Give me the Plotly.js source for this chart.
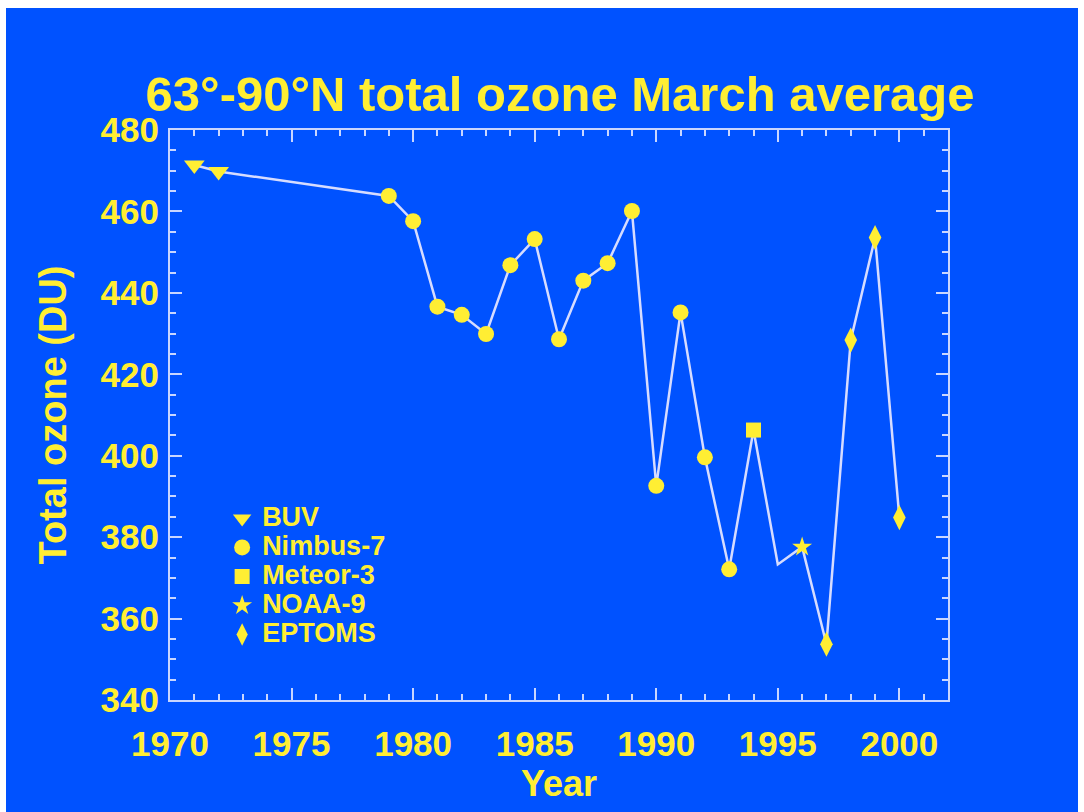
<!DOCTYPE html>
<html>
<head>
<meta charset="utf-8">
<script src="https://cdn.plot.ly/plotly-3.0.1.min.js"></script>
<style>
  html, body { margin: 0; padding: 0; background: #ffffff; width: 1084px; height: 812px; overflow: hidden; }
  #chart { position: absolute; left: 6px; top: 8px; width: 1072px; height: 804px; }
</style>
</head>
<body>
<div id="chart"></div>
<script>
// ---- data ----
const lineYears  = [1971, 1972, 1979, 1980, 1981, 1982, 1983, 1984, 1985, 1986, 1987, 1988, 1989, 1990, 1991, 1992, 1993, 1994, 1995, 1996, 1997, 1998, 1999, 2000];
const lineOzone  = [471.4, 469.8, 463.8, 457.6, 436.6, 434.6, 429.9, 446.8, 453.2, 428.6, 443.0, 447.3, 460.1, 392.6, 435.2, 399.6, 372.1, 406.3, 373.3, 377.6, 353.7, 428.4, 453.6, 384.8];

const buvYears = [1971, 1972];
const buvOzone = [471.4, 469.8];

const nimbusYears = [1979, 1980, 1981, 1982, 1983, 1984, 1985, 1986, 1987, 1988, 1989, 1990, 1991, 1992, 1993];
const nimbusOzone = [463.8, 457.6, 436.6, 434.6, 429.9, 446.8, 453.2, 428.6, 443.0, 447.3, 460.1, 392.6, 435.2, 399.6, 372.1];

const meteorYears = [1994];
const meteorOzone = [406.3];

const noaaYears = [1996];
const noaaOzone = [377.6];

const eptomsYears = [1997, 1998, 1999, 2000];
const eptomsOzone = [353.7, 428.4, 453.6, 384.8];

const seriesNames = ['BUV', 'Nimbus-7', 'Meteor-3', 'NOAA-9', 'EPTOMS'];

const xTickVals = [1970, 1975, 1980, 1985, 1990, 1995, 2000];
const yTickVals = [340, 360, 380, 400, 420, 440, 460, 480];

// ---- styling ----
const BLUE = '#0052ff';
const YELLOW = '#ffee33';
const AXIS = '#c9d6ff';
const LINE = '#d6dcff';
const FONT = '"Liberation Sans", Arial, Helvetica, sans-serif';

function legendName(s) { return '<span style="font-size:27px">' + s + '</span>'; }

const traces = [
  { x: lineYears, y: lineOzone, mode: 'lines', line: { color: LINE, width: 2.5 }, showlegend: false, hoverinfo: 'skip' },
  { x: buvYears, y: buvOzone, mode: 'markers', name: legendName(seriesNames[0]),
    marker: { symbol: 'triangle-down', size: 18, color: YELLOW } },
  { x: nimbusYears, y: nimbusOzone, mode: 'markers', name: legendName(seriesNames[1]),
    marker: { symbol: 'circle', size: 16, color: YELLOW } },
  { x: meteorYears, y: meteorOzone, mode: 'markers', name: legendName(seriesNames[2]),
    marker: { symbol: 'square', size: 15, color: YELLOW } },
  { x: noaaYears, y: noaaOzone, mode: 'markers', name: legendName(seriesNames[3]),
    marker: { symbol: 'star', size: 15, color: YELLOW } },
  { x: eptomsYears, y: eptomsOzone, mode: 'markers', name: legendName(seriesNames[4]),
    marker: { symbol: 'diamond-tall', size: 18, color: YELLOW } }
];

const axisCommon = {
  showline: true, linecolor: AXIS, linewidth: 2,
  mirror: 'allticks', ticks: 'inside', ticklen: 12, tickwidth: 2, tickcolor: AXIS,
  showgrid: false, zeroline: false,
  tickfont: { family: FONT, size: 35, color: YELLOW, weight: 'bold' }
};

const layout = {
  width: 1072, height: 804,
  paper_bgcolor: BLUE, plot_bgcolor: BLUE,
  margin: { l: 164, r: 130, t: 122, b: 112 },
  font: { family: FONT, color: YELLOW },
  title: {
    text: '<b>63°-90°N total ozone March average</b>',
    font: { family: FONT, size: 49, color: YELLOW },
    x: 554 / 1072, xref: 'container', xanchor: 'center',
    y: 1 - 86 / 804, yref: 'container', yanchor: 'middle'
  },
  xaxis: Object.assign({}, axisCommon, {
    range: [1970, 2002],
    tickmode: 'array', tickvals: xTickVals, ticktext: xTickVals.map(String),
    minor: { dtick: 1, ticks: 'inside', ticklen: 6, tickwidth: 2, tickcolor: AXIS },
    ticklabelstandoff: 12,
    title: { text: '<b>Year</b>', font: { family: FONT, size: 36, color: YELLOW }, standoff: 0 }
  }),
  yaxis: Object.assign({}, axisCommon, {
    range: [340, 480],
    tickmode: 'array', tickvals: yTickVals, ticktext: yTickVals.map(String),
    minor: { dtick: 5, ticks: 'inside', ticklen: 6, tickwidth: 2, tickcolor: AXIS },
    ticklabelstandoff: 2,
    title: { text: '<b>Total ozone (DU)</b>', font: { family: FONT, size: 38, color: YELLOW }, standoff: 22 }
  }),
  legend: {
    x: 0.067, y: 0.3527, xanchor: 'left', yanchor: 'top',
    bgcolor: 'rgba(0,0,0,0)', borderwidth: 0,
    font: { family: FONT, size: 20, color: YELLOW, weight: 'bold' },
    itemwidth: 30, tracegroupgap: 0
  },
  showlegend: true
};

Plotly.newPlot('chart', traces, layout, { displayModeBar: false, staticPlot: true });
</script>
</body>
</html>
